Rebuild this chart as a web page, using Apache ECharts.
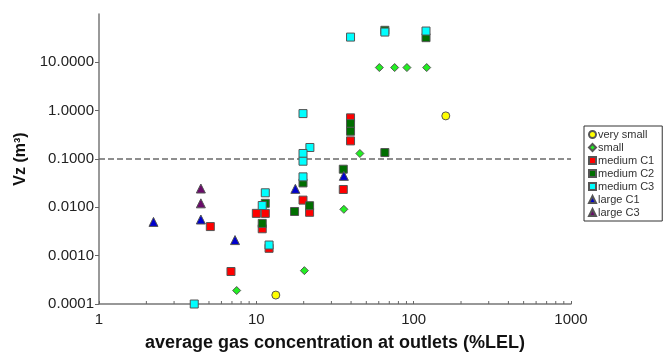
<!DOCTYPE html>
<html>
<head>
<meta charset="utf-8">
<script src="https://cdn.jsdelivr.net/npm/echarts@6/dist/echarts.min.js"></script>
<style>html,body{margin:0;padding:0;background:#fff}#c{width:666px;height:352px}</style>
</head>
<body>
<div id="c"></div>
<script>
const categories = ['very small','small','medium C1','medium C2','medium C3','large C1','large C3'];
const verySmall = [[13.3,0.000153],[160,0.78]];
const small = [[7.5,0.00019],[20.2,0.00049],[36,0.0091],[45.5,0.13],[60.5,7.8],[75.7,7.8],[90.6,7.8],[121,7.8]];
const mediumC1 = [[5.1,0.0040],[6.9,0.00047],[10.0,0.0075],[11.4,0.0075],[10.9,0.0036],[12.05,0.00142],[19.8,0.0141],[21.8,0.0079],[35.7,0.0234],[39.7,0.237],[39.7,0.71]];
const mediumC2 = [[11.4,0.0121],[10.9,0.00465],[19.8,0.032],[21.8,0.0108],[17.5,0.0082],[35.7,0.0615],[39.7,0.54],[39.7,0.375],[65.6,0.136],[119.8,32.4],[65.6,46]];
const mediumC3 = [[4.03,0.0001],[11.4,0.02],[10.9,0.0109],[12.05,0.00166],[21.9,0.173],[19.8,0.13],[19.8,0.09],[19.8,0.0427],[19.8,0.87],[39.7,33.3],[65.6,42.3],[119.8,44.4]];
const largeC1 = [[2.22,0.0050],[4.44,0.0056],[7.32,0.0021],[17.7,0.0241],[36,0.0448]];
const largeC3 = [[4.44,0.0245],[4.44,0.0121]];
const thresholdY = 0.1;
const xMinorTicks = [2,3,4,5,6,7,8,9,20,30,40,50,60,70,80,90,200,300,400,500,600,700,800,900];

const FONT = "'Liberation Sans', Arial, sans-serif";
const seriesData = [verySmall, small, mediumC1, mediumC2, mediumC3, largeC1, largeC3];
const symbols = ['circle','diamond','rect','rect','rect','triangle','triangle'];
const sizes = [8, 8, 8, 8, 8, 9, 9];
const colors = ['#ffff00','#22ee22','#ff0000','#006e00','#00ffff','#0000cc','#6a0a6a'];

const chart = echarts.init(document.getElementById('c'), null, {renderer:'canvas'});
const series = categories.map((name, i) => ({
  name, type:'scatter', data: seriesData[i], symbol: symbols[i], symbolSize: sizes[i],
  clip:false,
  itemStyle:{color: colors[i], borderColor:'#555', borderWidth:1, opacity:1},
  z: 3 + i
}));
series[0].markLine = {
  silent:true, symbol:'none', label:{show:false},
  lineStyle:{color:'#6a6a6a', width:1.6, type:[6,3]},
  data:[{yAxis: thresholdY}]
};
series.push({
  name:'minorTicks', type:'custom', silent:true, z:1,
  data: xMinorTicks.map(v=>[v]),
  renderItem: (params, api) => {
    const p = api.coord([api.value(0), 0.0001]);
    return {type:'line', shape:{x1:p[0], y1:p[1], x2:p[0], y2:p[1]-3}, style:{stroke:'#666', lineWidth:1}};
  }
});

chart.setOption({
  animation:false,
  backgroundColor:'#fff',
  textStyle:{fontFamily:FONT},
  grid:{left:99, right:95, top:14, bottom:48, containLabel:false, outerBoundsMode:'none'},
  legend:{
    orient:'vertical', left:584, top:126, data: categories,
    itemWidth:7, itemHeight:7, itemGap:2,
    backgroundColor:'#fff', borderColor:'#333', borderWidth:1, borderRadius:0,
    padding:[3,8,3,4],
    textStyle:{fontFamily:FONT, fontSize:11, color:'#333', padding:[0,0,0,-3]},
    selectedMode:false
  },
  xAxis:{
    type:'log', logBase:10, min:1, max:1000,
    name:'average gas concentration at outlets (%LEL)', nameLocation:'middle', nameGap:30,
    nameTextStyle:{fontFamily:FONT, fontSize:18, fontWeight:'bold', color:'#111'},
    axisLine:{show:true, lineStyle:{color:'#777', width:1.5}},
    axisTick:{show:true, inside:true, length:3, lineStyle:{color:'#666'}},
    axisLabel:{fontFamily:FONT, fontSize:15, color:'#222', margin:8,
      formatter: v => String(Math.round(v))},
    splitLine:{show:false}
  },
  yAxis:{
    type:'log', logBase:10, min:0.0001, max:100,
    name:'Vz (m³)', nameLocation:'middle', nameGap:68, nameRotate:90,
    nameTextStyle:{fontFamily:FONT, fontSize:16, fontWeight:'bold', color:'#111'},
    axisLine:{show:true, lineStyle:{color:'#777', width:1.5}},
    axisTick:{show:true, inside:false, length:4, lineStyle:{color:'#666'}},
    axisLabel:{fontFamily:FONT, fontSize:15, color:'#222', margin:5, showMaxLabel:false,
      formatter: v => v >= 99 ? '' : Number(v).toFixed(4)},
    splitLine:{show:false}
  },
  series
});
</script>
</body>
</html>
